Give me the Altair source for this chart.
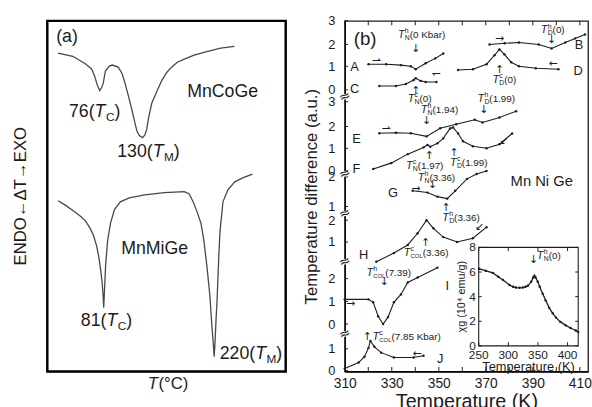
import altair as alt
import pandas as pd

FONT = "Liberation Sans"
SYMBOLS = "DejaVu Sans"
INK = "#1c1c1c"

# ---------- (a) DTA of MnCoGe and MnNiGe, temperature in degrees C ----------
co_T = [23.6, 42.2, 58.3, 65.8, 69.5, 72.5, 76.0, 78.5, 80.5, 83.1,
        88.1, 91.8, 99.3, 104.2, 108.0, 112.9, 116.6, 120.3, 122.8, 125.8,
        130.0, 132.8, 135.0, 137.5, 141.5, 147.7, 153.9, 160.1, 166.3, 173.7,
        182.4, 194.8, 207.2, 228.2, 245.6]
co_dT = [90.8, 89.9, 87.7, 86.3, 84.3, 82.0, 80.1, 81.0, 82.3, 85.7,
         87.1, 87.4, 86.8, 84.9, 82.1, 77.9, 74.5, 70.9, 68.6, 67.3,
         66.7, 67.5, 68.9, 72.3, 76.5, 79.8, 82.9, 85.2, 86.8, 88.2,
         89.1, 90.2, 91.0, 92.2, 92.7]
ni_T = [23.6, 33.6, 42.2, 52.2, 58.3, 64.5, 68.3, 72.0, 74.5, 76.9,
        79.0, 80.2, 81.0, 82.0, 83.4, 85.9, 89.6, 94.5, 102.0, 113.1,
        132.7, 157.5, 182.3, 188.5, 193.5, 198.4, 203.4, 207.1, 210.8, 214.6,
        217.0, 219.0, 220.0, 221.0, 222.4, 223.7, 224.9, 226.2, 227.4, 229.9,
        231.1, 237.3, 246.0, 255.9, 268.3]
ni_dT = [48.7, 47.3, 45.9, 44.2, 42.9, 40.6, 38.7, 35.9, 33.1, 29.4,
         25.5, 21.8, 18.2, 23.2, 30.2, 37.3, 42.3, 46.2, 48.4, 49.5,
         50.4, 51.0, 51.3, 50.7, 48.4, 45.6, 42.3, 37.3, 30.2, 21.8,
         13.4, 7.8, 4.2, 7.8, 14.8, 20.4, 27.5, 34.5, 40.1, 45.6,
         48.4, 51.8, 54.1, 55.2, 56.3]

# ---------- (b) DTA traces A-J of Mn Ni Ge under pressure ----------
# temperature in K; signal in stacked units (every trace sits on its own offset)
A_T = [320.1, 327.6, 333.9, 338.1, 340.2, 344.4, 348.5, 351.9]
A_s = [13.67, 13.67, 13.63, 13.58, 13.45, 13.71, 13.93, 14.15]
B_T = [371.6, 378.0, 384.1, 392.5, 398.0, 403.8, 408.0, 412.2]
B_s = [14.55, 14.60, 14.64, 14.55, 14.37, 14.64, 14.82, 14.99]
C_T = [324.7, 331.8, 336.0, 339.3, 340.2, 342.3, 344.4, 349.0]
C_s = [12.70, 12.70, 12.79, 12.97, 13.05, 12.93, 12.88, 12.88]
D_T = [358.2, 364.5, 370.3, 373.7, 375.8, 377.9, 380.8, 384.1, 391.3, 400.9]
D_s = [13.41, 13.45, 13.67, 14.07, 14.33, 14.11, 13.76, 13.58, 13.49, 13.45]
E_T = [324.7, 331.8, 338.1, 344.8, 350.6, 357.4, 365.3, 368.6, 375.8, 382.9]
E_s = [10.60, 10.62, 10.60, 10.46, 10.82, 11.00, 11.20, 11.08, 11.30, 11.58]
F_T = [322.1, 329.7, 336.8, 343.5, 345.2, 346.4, 349.4, 351.9, 354.8, 356.1,
       358.2, 360.3, 364.5, 370.3, 375.8, 381.2]
F_s = [9.01, 9.27, 9.67, 9.97, 10.08, 10.00, 10.15, 10.37, 10.81, 10.86,
       10.59, 10.24, 10.02, 9.93, 10.11, 10.59]
G_T = [338.9, 345.2, 349.4, 353.6, 357.0, 362.0, 366.1, 370.3]
G_s = [8.04, 7.96, 7.78, 7.69, 8.04, 8.57, 8.79, 8.92]
H_T = [323.4, 330.9, 336.8, 341.0, 344.8, 347.7, 351.9, 357.8, 364.5, 370.3]
H_s = [4.88, 5.27, 5.63, 6.15, 6.73, 6.37, 5.98, 5.76, 5.93, 6.42]
I_T = [310.0, 320.1, 322.1, 324.2, 326.3, 328.4, 330.9, 333.9, 336.8, 341.0, 349.4]
I_s = [3.21, 3.21, 3.08, 2.46, 2.11, 2.42, 3.08, 3.43, 3.96, 4.18, 4.62]
J_T = [310.0, 315.9, 318.4, 320.1, 320.9, 322.6, 325.5, 330.9, 339.3, 343.5]
J_s = [0.13, 0.40, 0.66, 1.05, 1.36, 1.10, 0.84, 0.62, 0.62, 0.70]

trace_names = ["A", "B", "C", "D", "E", "F", "G", "H", "I", "J"]
trace_T = [A_T, B_T, C_T, D_T, E_T, F_T, G_T, H_T, I_T, J_T]
trace_s = [A_s, B_s, C_s, D_s, E_s, F_s, G_s, H_s, I_s, J_s]
name_T = [314.2, 409.7, 314.2, 409.3, 315.0, 315.0, 330.5, 318.0, 353.6, 350.6]
name_s = [13.54, 14.51, 12.57, 13.36, 10.33, 9.01, 7.96, 5.19, 3.82, 0.57]

# heating / cooling direction arrows on the traces
dir_glyph = ["⇀", "↽", "→", "←", "⇀", "↙", "→", "↙", "→", "←"]
dir_T = [323.4, 349.0, 375.8, 398.8, 327.6, 377.9, 340.2, 367.4, 312.5, 341.0]
dir_s = [13.80, 13.23, 14.77, 13.67, 10.77, 10.24, 8.13, 6.42, 3.00, 0.79]

# stacked axis: tick positions and the values printed at them
tick_s = [15.6, 14.55, 13.58, 12.53, 12.0, 10.9, 9.93, 8.92, 8.66, 7.34,
          6.73, 5.76, 4.13, 3.12, 2.11, 1.01, 0.04]
tick_txt = ["3", "2", "1", "0", "3", "2", "1", "0", "2", "1",
            "2", "1", "2", "1", "0", "1", "0"]
break_s = [12.22, 8.79, 7.03, 4.88, 1.67]
temp_labels = [310, 330, 350, 370, 390, 410]
temp_ticks = [310, 320, 330, 340, 350, 360, 370, 380, 390, 400, 410]

# transition temperatures: T_sub^sup (pressure in kbar)
ann_sub = ["N", "N", "D", "D", "N", "D", "N", "D", "N", "D", "COL", "COL", "COL"]
ann_sup = ["h", "c", "h", "c", "h", "h", "c", "c", "h", "h", "c", "h", "c"]
ann_rest = [" (0 Kbar)", " (0)", " (0)", " (0)", " (1.94)", " (1.99)", " (1.97)",
            " (1.99)", "   (3.36)", " (3.36)", " (3.36)", " (7.39)", " (7.85 Kbar)"]
ann_T = [332.6, 336.8, 393.4, 372.8, 342.3, 366.5, 336.0, 354.8, 341.0, 351.5,
         335.1, 319.2, 321.8]
ann_s = [14.95, 12.13, 15.17, 12.97, 11.65, 12.13, 9.14, 9.27, 8.62, 6.81,
         5.27, 4.40, 1.54]
arrow_glyph = ["↓", "↑", "↓", "↑", "↓", "↓", "↑", "↑", "↓", "↑", "↑", "↓", "↑"]
arrow_T = [340.2, 340.2, 398.0, 375.8, 344.8, 369.1, 346.0, 356.5, 347.3, 353.1,
           344.4, 326.8, 319.6]
arrow_s = [14.33, 12.48, 14.73, 13.41, 11.16, 11.65, 9.58, 9.71, 8.31, 7.25,
           5.71, 4.00, 1.54]

# inset: mass susceptibility vs temperature
chi_T = [250.5, 262, 274, 283, 291, 302, 308, 313, 319, 324.5, 329, 333, 338.6,
         342, 344, 346, 349.7, 353, 358, 363, 369, 375, 380.6, 388, 397, 405, 414, 418]
chi_g = [6.27, 6.10, 5.93, 5.62, 5.36, 4.94, 4.80, 4.74, 4.72, 4.74, 4.80, 4.88, 5.22,
         5.55, 5.70, 5.55, 5.22, 4.80, 4.23, 3.70, 3.09, 2.65, 2.30, 1.95, 1.67, 1.45,
         1.25, 1.12]
chi_ticks = [0, 2, 4, 6, 8]
chi_T_ticks = [250, 300, 350, 400]

# Liberation Sans advance widths (per 1000 em) used to chain label pieces
ADV = {"(": 333, ")": 333, " ": 278, ".": 278, "T": 611, "C": 722, "M": 833,
       "N": 722, "D": 722, "O": 778, "L": 556}


def text_width(s, size):
    return sum(ADV.get(c, 556) for c in s) * size / 1000.0


def txt(x, y, t, xs, ys, **mk):
    props = dict(font=FONT, fontSize=12, color=INK, align="left", baseline="middle")
    props.update(mk)
    df = pd.DataFrame({"x": list(x), "y": list(y), "t": list(t)})
    return alt.Chart(df).mark_text(**props).encode(
        x=alt.X("x:Q", scale=xs, axis=None),
        y=alt.Y("y:Q", scale=ys, axis=None),
        text="t:N",
    )


def hrules(x, x2, y, xs, ys, **mk):
    df = pd.DataFrame({"x": list(x), "x2": list(x2), "y": list(y)})
    return alt.Chart(df).mark_rule(color=INK, strokeWidth=1, **mk).encode(
        x=alt.X("x:Q", scale=xs, axis=None), x2="x2:Q",
        y=alt.Y("y:Q", scale=ys, axis=None))


def vrules(x, y, y2, xs, ys, **mk):
    df = pd.DataFrame({"x": list(x), "y": list(y), "y2": list(y2)})
    return alt.Chart(df).mark_rule(color=INK, strokeWidth=1, **mk).encode(
        x=alt.X("x:Q", scale=xs, axis=None),
        y=alt.Y("y:Q", scale=ys, axis=None), y2="y2:Q")


def box(x, x2, y, y2, xs, ys, **mk):
    df = pd.DataFrame({"x": list(x), "x2": list(x2), "y": list(y), "y2": list(y2)})
    return alt.Chart(df).mark_rect(**mk).encode(
        x=alt.X("x:Q", scale=xs, axis=None), x2="x2:Q",
        y=alt.Y("y:Q", scale=ys, axis=None), y2="y2:Q")


def series(name, xs, ys):
    return pd.DataFrame({"curve": name, "x": xs, "y": ys, "i": list(range(len(xs)))})


# ======================= panel (a) =======================
XA = alt.Scale(domain=[10, 310], nice=False, zero=False)
YA = alt.Scale(domain=[0, 100], nice=False, zero=False)

dta = pd.concat([series("MnCoGe", co_T, co_dT), series("MnNiGe", ni_T, ni_dT)])
lines_a = alt.Chart(dta).mark_line(color="#474747", strokeWidth=1.3).encode(
    x=alt.X("x:Q", scale=XA, axis=None),
    y=alt.Y("y:Q", scale=YA, axis=None),
    detail="curve:N", order="i:Q",
)
frame_a = box([10], [310], [0], [100], XA, YA, fillOpacity=0, stroke="black", strokeWidth=2.4)


def formula_a(prefix, sub, x, y):
    s, ss = 18, 12
    w0 = text_width(prefix, s)
    wt = text_width("T", s) + 0.5
    w1 = text_width(sub, ss)
    return [
        txt([x], [y], [prefix], XA, YA, fontSize=s),
        txt([x], [y], ["T"], XA, YA, fontSize=s, fontStyle="italic", dx=w0),
        txt([x], [y], [sub], XA, YA, fontSize=ss, dx=w0 + wt, dy=5),
        txt([x], [y], [")"], XA, YA, fontSize=s, dx=w0 + wt + w1),
    ]


texts_a = [
    # vertical title of the DTA signal, left of the frame
    txt([-23.4], [50.0], ["ENDO←ΔT→EXO"], XA, YA, fontSize=17, align="center", angle=270),
    txt([21.2], [95.5], ["(a)"], XA, YA, fontSize=18),
    txt([230.7], [79.8], ["MnCoGe"], XA, YA, fontSize=18, align="center"),
    txt([145.1], [35.0], ["MnMiGe"], XA, YA, fontSize=18, align="center"),
    txt([136.5], [-3.6], ["T"], XA, YA, fontSize=17, fontStyle="italic"),
    txt([136.5], [-3.6], [" (°C)"], XA, YA, fontSize=17, dx=text_width("T", 17) + 0.5),
]
texts_a += formula_a("76(", "C", 37.3, 73.9)
texts_a += formula_a("130(", "M", 98.0, 62.5)
texts_a += formula_a("81(", "C", 52.2, 14.3)
texts_a += formula_a("220(", "M", 227.0, 5.0)

panel_a = alt.layer(lines_a, frame_a, *texts_a).properties(width=242, height=356)

# ======================= panel (b) =======================
XB = alt.Scale(domain=[310, 413.5], nice=False, zero=False)
YB = alt.Scale(domain=[0, 15.6], nice=False, zero=False)

traces = pd.concat([series(n, t, s) for n, t, s in zip(trace_names, trace_T, trace_s)])
label_expr = ("[" + ",".join(f"'{t}'" for t in tick_txt) + "][indexof(["
              + ",".join(repr(v) for v in tick_s) + "], datum.value)]")

lines_b = alt.Chart(traces).mark_line(color=INK, strokeWidth=1.1).encode(
    x=alt.X("x:Q", scale=XB, axis=alt.Axis(
        values=temp_labels, format="d", grid=False, ticks=False,
        labelFlush=False, labelFont=FONT, labelFontSize=14, labelColor=INK,
        labelPadding=5, domainColor="black", domainWidth=1.3,
        title="Temperature (K)", titleFont=FONT, titleFontSize=20,
        titleFontWeight="normal", titleColor=INK, titlePadding=2)),
    y=alt.Y("y:Q", scale=YB, axis=alt.Axis(
        values=tick_s, labelExpr=label_expr, grid=False, ticks=False,
        labelOverlap=False, labelFont=FONT, labelFontSize=13, labelColor=INK,
        labelPadding=10, domainColor="black", domainWidth=1.3,
        title="Temperature difference (a.u.)", titleFont=FONT, titleFontSize=17,
        titleFontWeight="normal", titleColor=INK, titlePadding=7)),
    detail="curve:N", order="i:Q",
)
dots_b = alt.Chart(traces).mark_circle(color=INK, size=6, opacity=1).encode(
    x=alt.X("x:Q", scale=XB, axis=None), y=alt.Y("y:Q", scale=YB, axis=None))

# inward ticks on the left, bottom and top edges
left_ticks = hrules([310] * len(tick_s), [311.4] * len(tick_s), tick_s, XB, YB)
bottom_ticks = vrules(temp_ticks, [0] * len(temp_ticks), [0.2] * len(temp_ticks), XB, YB)
top_ticks = vrules(temp_ticks, [15.6] * len(temp_ticks), [15.4] * len(temp_ticks), XB, YB)

# axis breaks between the stacked groups
gaps = box([309.3] * len(break_s), [310.7] * len(break_s),
           [b - 0.12 for b in break_s], [b + 0.12 for b in break_s], XB, YB, color="white")
breaks = txt([310] * len(break_s), break_s, ["≈"] * len(break_s), XB, YB,
             font=SYMBOLS, fontSize=14, align="center", angle=340)

ann = pd.DataFrame({"x": ann_T, "y": ann_s, "sub": ann_sub, "sup": ann_sup, "rest": ann_rest})
short = ann[ann["sub"] != "COL"]
col = ann[ann["sub"] == "COL"]
t_w = text_width("T", 11) + 0.2
ann_layers = [
    txt(ann.x, ann.y, ["T"] * len(ann), XB, YB, fontSize=11, fontStyle="italic"),
    txt(short.x, short.y, short["sub"], XB, YB, fontSize=7, dx=t_w, dy=3),
    txt(col.x, col.y, col["sub"], XB, YB, fontSize=6, dx=t_w, dy=3),
    txt(ann.x, ann.y, ann["sup"], XB, YB, fontSize=7, dx=t_w, dy=-4),
    txt(short.x, short.y, short["rest"], XB, YB, fontSize=10, dx=t_w + text_width("N", 7)),
    txt(col.x, col.y, col["rest"], XB, YB, fontSize=10, dx=t_w + text_width("COL", 6)),
]

texts_b = [
    txt(name_T, name_s, trace_names, XB, YB, fontSize=13, align="center"),
    txt(dir_T, dir_s, dir_glyph, XB, YB, font=SYMBOLS, fontSize=11, align="center"),
    txt(arrow_T, arrow_s, arrow_glyph, XB, YB, font=SYMBOLS, fontSize=11, align="center"),
    txt([313.8], [14.77], ["(b)"], XB, YB, fontSize=19),
    txt([393.8], [8.48], ["Mn Ni Ge"], XB, YB, fontSize=15, align="center"),
]

main_b = [lines_b, dots_b, left_ticks, bottom_ticks, top_ticks, gaps, breaks,
          *ann_layers, *texts_b]

# ---- inset: chi_g(T), drawn on its own scales placed inside the panel ----
XI = alt.Scale(domain=[250, 418], range=[136, 237], nice=False, zero=False)
YI = alt.Scale(domain=[0, 8], range=[330, 230], nice=False, zero=False)

chi_df = pd.DataFrame({"x": chi_T, "y": chi_g})
inset = [
    box([250], [418], [0], [8], XI, YI, fill="white", stroke=INK, strokeWidth=1.1),
    alt.Chart(chi_df).mark_line(color=INK, strokeWidth=1.3).encode(
        x=alt.X("x:Q", scale=XI, axis=None), y=alt.Y("y:Q", scale=YI, axis=None)),
    alt.Chart(chi_df).mark_circle(color=INK, size=6, opacity=1).encode(
        x=alt.X("x:Q", scale=XI, axis=None), y=alt.Y("y:Q", scale=YI, axis=None)),
    hrules([250] * 5, [255] * 5, chi_ticks, XI, YI),
    hrules([413] * 5, [418] * 5, chi_ticks, XI, YI),
    vrules(chi_T_ticks, [0] * 4, [0.3] * 4, XI, YI),
    vrules(chi_T_ticks, [8] * 4, [7.7] * 4, XI, YI),
    txt([250] * len(chi_ticks), chi_ticks, [str(v) for v in chi_ticks], XI, YI,
        fontSize=12, align="right", dx=-3),
    txt(chi_T_ticks, [0] * len(chi_T_ticks), [str(v) for v in chi_T_ticks], XI, YI,
        fontSize=12, align="center", dy=9),
    txt([334], [0], ["Temperature (K)"], XI, YI, fontSize=13, align="center", dy=21),
    txt([221], [4], ["χg (10⁴ emu/g)"], XI, YI, fontSize=11, align="center", angle=270),
    txt([342.4], [6.95], ["↓"], XI, YI, font=SYMBOLS, fontSize=11, align="center"),
    txt([348.2], [7.3], ["T"], XI, YI, fontSize=11, fontStyle="italic"),
    txt([348.2], [7.3], ["N"], XI, YI, fontSize=7, dx=t_w, dy=3),
    txt([348.2], [7.3], ["h"], XI, YI, fontSize=7, dx=t_w, dy=-4),
    txt([348.2], [7.3], [" (0)"], XI, YI, fontSize=10, dx=t_w + text_width("N", 7)),
]

# every layer carries its own explicit scale, so the inset keeps separate ones
panel_b = alt.layer(*main_b, *inset).resolve_scale(
    x="independent", y="independent").properties(width=247, height=356)

chart = alt.hconcat(panel_a, panel_b, spacing=60, bounds="flush").properties(
    padding={"left": 11, "top": 11, "right": 0, "bottom": 0}
).configure_view(stroke=INK, strokeWidth=1.3)

chart.save("out.html", embed_options={"renderer": "svg", "actions": False})
